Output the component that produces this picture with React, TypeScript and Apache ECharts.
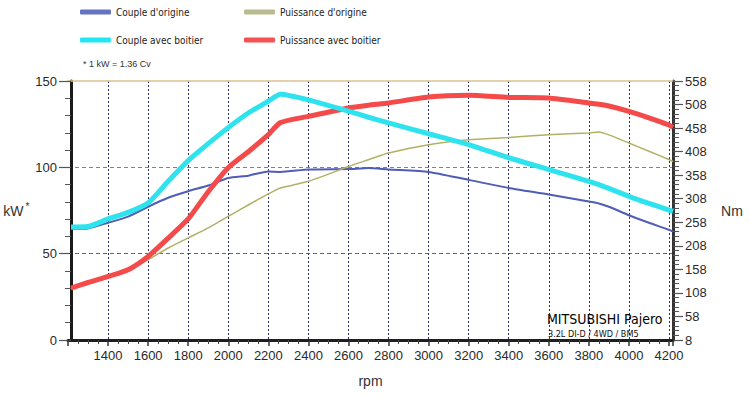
import React, { useEffect, useRef } from "react";
import * as echarts from "echarts";

// ---- data ----
const rpm = [1215, 1300, 1400, 1500, 1600, 1700, 1800, 1900, 2000, 2100, 2200, 2260, 2400, 2600, 2700, 2800, 3000, 3200, 3400, 3600, 3800, 3850, 3900, 4000, 4100, 4200, 4220];

// torque, Nm (right axis)
const coupleOrigine = [244, 245, 257, 270, 291, 310, 324, 336, 352, 357, 366, 365, 370, 371, 373, 370, 365, 348, 331, 317, 302, 298, 291, 273, 257, 242, 238];
const coupleBoitier = [248, 249, 265, 279, 299, 345, 389, 425, 459, 490, 515, 530, 518, 494, 481, 469, 446, 423, 395, 370, 345, 338, 330, 313, 298, 284, 281];

// power, kW (left axis)
const puissanceOrigine = [29.7, 32.5, 35.9, 40.5, 46.5, 53.3, 59.1, 64.9, 71.6, 78.2, 84.6, 88.0, 91.9, 100.5, 104.4, 108.3, 113.1, 116.0, 117.3, 118.9, 119.9, 120.5, 118.8, 114.1, 109.3, 104.5, 103.4];
const puissanceBoitier = [30.1, 33.3, 36.8, 40.7, 48.4, 59.0, 70.1, 85.9, 99.8, 109.0, 118.9, 125.9, 129.5, 134.4, 136.0, 137.3, 140.7, 141.7, 140.5, 140.2, 137.3, 136.5, 135.5, 132.4, 128.7, 124.5, 123.1];

// tick labels
const nmTickLabels = ["8", "58", "108", "158", "208", "258", "308", "358", "408", "458", "508", "558"];

const seriesNames = ["Couple d'origine", "Puissance d'origine", "Couple avec boitier", "Puissance avec boitier"];

const SANS = "'Liberation Sans', Arial, sans-serif";
const NARROW = "'Liberation Sans Narrow', 'Arial Narrow', 'DejaVu Sans Condensed', sans-serif";

const zip = (xs: number[], ys: number[]) => xs.map((x, i) => [x, ys[i]]);

export default function App() {
  const ref = useRef<HTMLDivElement>(null);

  useEffect(() => {
    if (!ref.current) return;
    const chart = echarts.init(ref.current, undefined, { renderer: "svg" });

    const legendBase = {
      padding: 0,
      itemWidth: 31,
      itemHeight: 5,
      icon: "roundRect",
      selectedMode: false,
      textStyle: { fontSize: 10, fontFamily: NARROW, color: "#222" },
    };

    const lineBase = { type: "line", symbol: "none", smooth: 0.2 };

    const option: any = {
      animation: false,
      backgroundColor: "#ffffff",
      grid: { left: 68, right: 77, top: 81, bottom: 56 },
      legend: [
        { ...legendBase, left: 80, top: 7, data: [seriesNames[0]] },
        { ...legendBase, left: 244, top: 7, data: [seriesNames[1]] },
        { ...legendBase, left: 80, top: 35, data: [seriesNames[2]] },
        { ...legendBase, left: 244, top: 35, data: [seriesNames[3]] },
      ],
      xAxis: [
        {
          type: "value",
          min: 1200,
          max: 4220,
          interval: 200,
          axisLine: { show: true, onZero: false, lineStyle: { color: "#1e1e1e", width: 3 } },
          axisTick: { show: true, length: 6, lineStyle: { color: "#333", width: 1.5 } },
          minorTick: { show: true, splitNumber: 4, length: 4, lineStyle: { color: "#444", width: 1 } },
          axisLabel: {
            showMinLabel: false,
            showMaxLabel: false,
            margin: 9,
            fontSize: 13,
            color: "#2a2a2a",
            fontFamily: SANS,
            formatter: (v: number) => String(v),
          },
          splitLine: { show: true, showMinLine: false, showMaxLine: false, lineStyle: { color: "#2c3060", width: 1, type: [2, 2] } },
          name: "rpm",
          nameLocation: "middle",
          nameGap: 41,
          nameTextStyle: { fontSize: 14, color: "#333", fontFamily: SANS, verticalAlign: "middle" },
        },
        {
          type: "value",
          position: "top",
          min: 1200,
          max: 4220,
          axisLine: { show: true, onZero: false, lineStyle: { color: "#d8c28e", width: 1.5 } },
          axisTick: { show: false },
          axisLabel: { show: false },
          splitLine: { show: false },
        },
      ],
      yAxis: [
        {
          type: "value",
          min: 0,
          max: 150,
          interval: 50,
          position: "left",
          offset: -3,
          axisLine: { show: true, lineStyle: { color: "#1a1a1a", width: 3 } },
          axisTick: { show: true, length: 12, lineStyle: { color: "#555", width: 1.2 } },
          minorTick: { show: true, splitNumber: 5, length: 6, lineStyle: { color: "#555", width: 1 } },
          axisLabel: { margin: 14, fontSize: 13, color: "#2a2a2a", fontFamily: SANS },
          splitLine: {
            show: true,
            lineStyle: { color: ["transparent", "#8a5a56", "#9a7a70", "transparent"], width: 1, type: [4, 3] },
          },
          name: "{a|kW}{b|*}",
          nameLocation: "middle",
          nameGap: 48,
          nameRotate: 0,
          nameTextStyle: {
            align: "center",
            verticalAlign: "middle",
            rich: {
              a: { fontSize: 14, color: "#333", fontFamily: SANS },
              b: { fontSize: 10, color: "#333", fontFamily: SANS, padding: [0, 0, 8, 2] },
            },
          },
        },
        {
          type: "value",
          min: 0,
          max: 550,
          interval: 50,
          position: "right",
          axisLine: { show: true, lineStyle: { color: "#333", width: 3 } },
          axisTick: { show: true, length: 10, lineStyle: { color: "#555", width: 1.2 } },
          minorTick: { show: true, splitNumber: 5, length: 6, lineStyle: { color: "#555", width: 1 } },
          axisLabel: {
            margin: 12,
            fontSize: 13,
            color: "#2a2a2a",
            fontFamily: SANS,
            formatter: (_v: number, i: number) => nmTickLabels[i] ?? "",
          },
          splitLine: { show: false },
          name: "Nm",
          nameLocation: "middle",
          nameGap: 59,
          nameRotate: 0,
          nameTextStyle: { fontSize: 14, color: "#333", fontFamily: SANS, align: "center", verticalAlign: "middle" },
        },
        {
          type: "value",
          min: 8,
          max: 558,
          position: "right",
          show: false,
        },
      ],
      series: [
        {
          ...lineBase,
          name: seriesNames[0],
          yAxisIndex: 2,
          data: zip(rpm, coupleOrigine),
          itemStyle: { color: "#6672c2" },
          lineStyle: { color: "#4f5db6", width: 2 },
          z: 2,
        },
        {
          ...lineBase,
          name: seriesNames[1],
          yAxisIndex: 0,
          data: zip(rpm, puissanceOrigine),
          itemStyle: { color: "#b9bc90" },
          lineStyle: { color: "#b3b064", width: 1.5 },
          z: 2,
        },
        {
          ...lineBase,
          name: seriesNames[3],
          yAxisIndex: 0,
          data: zip(rpm, puissanceBoitier),
          itemStyle: { color: "#f55252" },
          lineStyle: { color: "#f44a4a", width: 5 },
          z: 3,
        },
        {
          ...lineBase,
          name: seriesNames[2],
          yAxisIndex: 2,
          data: zip(rpm, coupleBoitier),
          itemStyle: { color: "#22e6f0" },
          lineStyle: { color: "#2ee3ee", width: 5 },
          z: 4,
        },
      ],
      graphic: [
        {
          type: "text",
          left: 83,
          top: 59,
          style: { text: "* 1 kW = 1.36 Cv", fontSize: 9, fill: "#333", fontFamily: SANS },
        },
        {
          type: "text",
          left: 547,
          top: 312,
          z: 10,
          style: { text: "MITSUBISHI Pajero", fontSize: 14, fill: "#000", fontFamily: NARROW },
        },
        {
          type: "text",
          left: 548,
          top: 329,
          z: 10,
          style: { text: "3.2L DI-D / 4WD / BM5", fontSize: 9, fill: "#111", fontFamily: NARROW },
        },
      ],
    };

    chart.setOption(option);
    return () => chart.dispose();
  }, []);

  return (
    <div
      ref={ref}
      style={{ position: "fixed", left: 0, top: 0, width: 750, height: 396, background: "#fff" }}
    />
  );
}
